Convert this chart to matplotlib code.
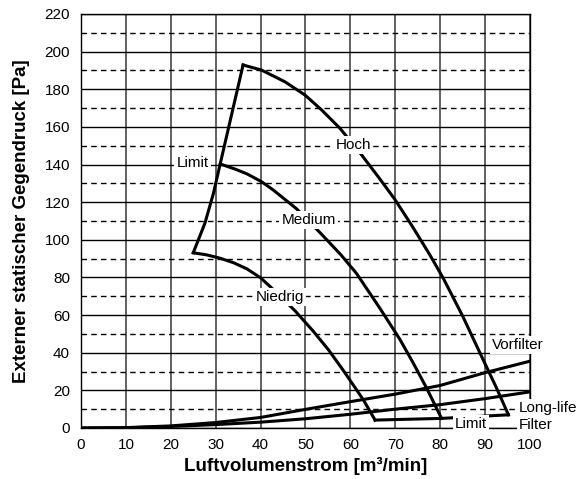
import matplotlib
matplotlib.use('Agg')
import matplotlib.pyplot as plt

plt.rcParams['font.family'] = ['Liberation Sans Narrow', 'Liberation Sans', 'DejaVu Sans']

# Kennlinien (Luftvolumenstrom m3/min, Druck Pa)
hoch_x = [36.1, 40.2, 45.4, 49.9, 53.6, 57.7, 62.5, 66.2, 69.9, 73.7, 77.7, 80.7, 85.0, 89.6, 92.5, 95.2]
hoch_y = [192.9, 190.2, 184.0, 176.9, 169.0, 159.2, 145.1, 133.5, 121.5, 107.5, 92.0, 79.5, 59.5, 36.1, 21.5, 7.0]

medium_x = [31.0, 34.3, 37.0, 40.2, 42.8, 48.0, 53.4, 57.9, 61.4, 66.6, 71.0, 74.0, 77.0, 80.3]
medium_y = [140.3, 137.6, 135.0, 130.9, 126.5, 116.5, 103.4, 92.0, 82.0, 63.5, 47.2, 34.5, 21.1, 5.1]

niedrig_x = [25.0, 28.0, 31.0, 34.0, 37.0, 40.0, 42.1, 47.7, 51.7, 55.1, 58.3, 61.4, 62.9, 65.5]
niedrig_y = [93.1, 92.0, 90.2, 87.8, 84.5, 79.8, 75.2, 62.2, 51.5, 41.6, 31.0, 20.2, 14.9, 4.2]

# Grenzlinien
limit_oben_x = [25.0, 27.6, 29.5, 31.0, 36.1]
limit_oben_y = [93.1, 108.8, 124.7, 140.3, 192.9]
limit_unten_x = [65.5, 80.3, 95.2]
limit_unten_y = [4.2, 5.1, 7.0]

# Filterwiderstand
filter_x = [0, 10, 20, 30, 40, 50, 60, 70, 80, 90, 100]
vorfilter_y = [0, 0.2, 1.1, 2.9, 5.6, 9.9, 14.0, 18.0, 22.6, 29.4, 35.5]
longlife_y = [0, 0.1, 0.8, 1.8, 3.1, 4.9, 7.3, 10.0, 12.4, 15.6, 19.2]

xticks = list(range(0, 101, 10))
yticks = list(range(0, 221, 20))
yticks_minor = list(range(10, 220, 20))

fig = plt.figure(figsize=(5.81, 4.79), dpi=100)
ax = fig.add_axes([0.1394, 0.1065, 0.7728, 0.8643])

ax.set_xlim(0, 100)
ax.set_ylim(0, 220)
ax.set_xticks(xticks)
ax.set_yticks(yticks)
ax.set_yticks(yticks_minor, minor=True)
ax.tick_params(which='both', length=0, labelsize=11)
ax.tick_params(axis='y', pad=8)
ax.tick_params(axis='x', pad=7)

ax.set_axisbelow(True)
ax.xaxis.grid(True, color='#555555', lw=1.3)
ax.yaxis.grid(True, which='major', color='black', lw=1.0)
ax.yaxis.grid(True, which='minor', color='black', lw=1.0, ls=(0, (4, 3)))
for s in ax.spines.values():
    s.set_color('black')
    s.set_linewidth(1.0)

lw = 2.2
for xs, ys in [(hoch_x, hoch_y), (medium_x, medium_y), (niedrig_x, niedrig_y),
               (limit_oben_x, limit_oben_y), (limit_unten_x, limit_unten_y),
               (filter_x, vorfilter_y), (filter_x, longlife_y)]:
    ax.plot(xs, ys, color='black', lw=lw, solid_joinstyle='miter', zorder=3)

box = dict(facecolor='white', edgecolor='none', pad=1.5)
def label(x, y, s, ha='center'):
    ax.text(x, y, s, ha=ha, va='center', fontsize=11, bbox=box, zorder=5, clip_on=False)

label(60.7, 150.4, 'Hoch')
label(50.7, 110.5, 'Medium')
label(44.3, 69.6, 'Niedrig')
label(24.8, 140.8, 'Limit')
label(86.9, 2.1, 'Limit')
label(91.5, 44.1, 'Vorfilter', ha='left')
label(97.5, 10.5, 'Long-life', ha='left')
label(97.5, 1.6, 'Filter', ha='left')

ax.set_xlabel('Luftvolumenstrom [m³/min]', fontsize=13.5, fontweight='bold', labelpad=4)
ax.set_ylabel('Externer statischer Gegendruck [Pa]', fontsize=13.5, fontweight='bold', labelpad=10)

fig.savefig('out.png', dpi=100)
